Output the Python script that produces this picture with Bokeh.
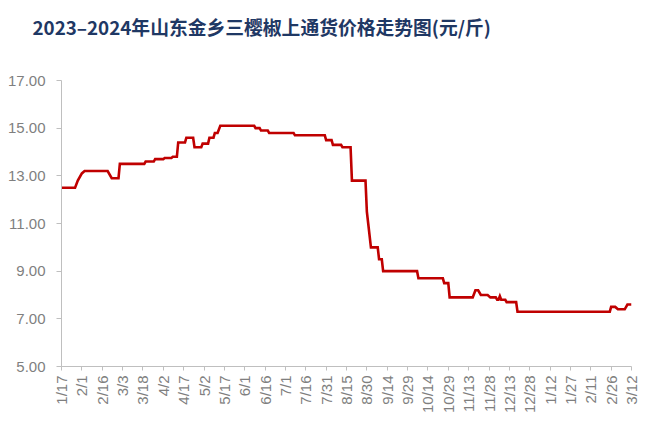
import math
import pandas as pd
from bokeh.plotting import figure
from bokeh.models import Range1d, FixedTicker, NumeralTickFormatter, ColumnDataSource, Title
from bokeh.embed import file_html
from bokeh.resources import INLINE

title_text = "2023–2024年山东金乡三樱椒上通货价格走势图(元/斤)"

dates = ["2023-01-17", "2023-01-27", "2023-01-29", "2023-02-01", "2023-02-03", "2023-02-20",
         "2023-02-23", "2023-02-28", "2023-03-01", "2023-03-19", "2023-03-20", "2023-03-26",
         "2023-03-27", "2023-04-02", "2023-04-03", "2023-04-08", "2023-04-09", "2023-04-12",
         "2023-04-13", "2023-04-18", "2023-04-19", "2023-04-24", "2023-04-25", "2023-04-30",
         "2023-05-01", "2023-05-05", "2023-05-06", "2023-05-09", "2023-05-10", "2023-05-12",
         "2023-05-14", "2023-06-08", "2023-06-09", "2023-06-12", "2023-06-13", "2023-06-18",
         "2023-06-19", "2023-07-07", "2023-07-08", "2023-07-30", "2023-07-31", "2023-08-04",
         "2023-08-05", "2023-08-11", "2023-08-12", "2023-08-18", "2023-08-19", "2023-08-29",
         "2023-08-30", "2023-08-31", "2023-09-02", "2023-09-07", "2023-09-08", "2023-09-10",
         "2023-09-11", "2023-10-06", "2023-10-07", "2023-10-25", "2023-10-26", "2023-10-29",
         "2023-10-30", "2023-11-16", "2023-11-18", "2023-11-20", "2023-11-22", "2023-11-27",
         "2023-11-29", "2023-12-03", "2023-12-04", "2023-12-05", "2023-12-06", "2023-12-07",
         "2023-12-10", "2023-12-11", "2023-12-18", "2023-12-19", "2024-02-25", "2024-02-26",
         "2024-02-29", "2024-03-02", "2024-03-07", "2024-03-09", "2024-03-12"]

prices = [12.5, 12.5, 12.8, 13.1, 13.2, 13.2,
          12.9, 12.9, 13.5, 13.5, 13.6, 13.6,
          13.7, 13.7, 13.75, 13.75, 13.8, 13.8,
          14.4, 14.4, 14.6, 14.6, 14.2, 14.2,
          14.35, 14.35, 14.6, 14.6, 14.8, 14.8,
          15.1, 15.1, 15.0, 15.0, 14.9, 14.9,
          14.8, 14.8, 14.7, 14.7, 14.5, 14.5,
          14.3, 14.3, 14.2, 14.2, 12.8, 12.8,
          11.5, 11.0, 10.0, 10.0, 9.5, 9.5,
          9.0, 9.0, 8.7, 8.7, 8.5, 8.5,
          7.9, 7.9, 8.2, 8.2, 8.0, 8.0,
          7.9, 7.9, 7.8, 7.8, 7.95, 7.8,
          7.8, 7.7, 7.7, 7.3, 7.3, 7.5,
          7.5, 7.4, 7.4, 7.6, 7.6]

tick_dates = ["2023-01-17", "2023-02-01", "2023-02-16", "2023-03-03", "2023-03-18", "2023-04-02",
              "2023-04-17", "2023-05-02", "2023-05-17", "2023-06-01", "2023-06-16", "2023-07-01",
              "2023-07-16", "2023-07-31", "2023-08-15", "2023-08-30", "2023-09-14", "2023-09-29",
              "2023-10-14", "2023-10-29", "2023-11-13", "2023-11-28", "2023-12-13", "2023-12-28",
              "2024-01-12", "2024-01-27", "2024-02-11", "2024-02-26", "2024-03-12"]
tick_labels = ["1/17", "2/1", "2/16", "3/3", "3/18", "4/2", "4/17", "5/2", "5/17", "6/1",
               "6/16", "7/1", "7/16", "7/31", "8/15", "8/30", "9/14", "9/29", "10/14", "10/29",
               "11/13", "11/28", "12/13", "12/28", "1/12", "1/27", "2/11", "2/26", "3/12"]
y_ticks = [5, 7, 9, 11, 13, 15, 17]

def to_ms(s):
    return pd.Timestamp(s).timestamp() * 1000.0

src = ColumnDataSource(dict(x=pd.to_datetime(dates), y=prices))

p = figure(width=650, height=423, output_backend="svg", toolbar_location=None,
           x_axis_type="datetime",
           x_range=Range1d(pd.Timestamp(tick_dates[0]), pd.Timestamp(tick_dates[-1])),
           y_range=Range1d(5, 17),
           min_border_left=61, min_border_right=19, min_border_top=80, min_border_bottom=57)

p.title = None
spacer = Title(text=" ", text_font_size="33px", standoff=0, text_color="white")
p.add_layout(spacer, "above")
main_title = Title(text=title_text, text_font="Noto Sans CJK SC", text_font_size="18.8px",
                   text_font_style="bold", text_color="#1F3864", align="left",
                   vertical_align="top", offset=-29, standoff=0)
p.add_layout(main_title, "above")

p.line("x", "y", source=src, line_color="#C00000", line_width=2.6, line_join="miter")

p.outline_line_color = None
p.xgrid.grid_line_color = None
p.ygrid.grid_line_color = None
p.background_fill_color = "white"
p.border_fill_color = "white"

label_color = "#7F7F7F"
axis_color = "#BFBFBF"

xa = p.xaxis[0]
tms = [to_ms(d) for d in tick_dates]
xa.ticker = FixedTicker(ticks=tms)
xa.major_label_overrides = {t: l for t, l in zip(tms, tick_labels)}
xa.major_label_orientation = math.pi / 2
xa.axis_line_color = axis_color
xa.major_tick_line_color = axis_color
xa.major_tick_out = 4
xa.major_tick_in = 0
xa.minor_tick_line_color = None
xa.major_label_text_font = "Liberation Sans"
xa.major_label_text_font_size = "15px"
xa.major_label_text_color = label_color
xa.major_label_standoff = 5

ya = p.yaxis[0]
ya.ticker = FixedTicker(ticks=y_ticks)
ya.formatter = NumeralTickFormatter(format="0.00")
ya.axis_line_color = axis_color
ya.major_tick_line_color = axis_color
ya.major_tick_out = 5
ya.major_tick_in = 0
ya.minor_tick_line_color = None
ya.major_label_text_font = "Liberation Sans"
ya.major_label_text_font_size = "15px"
ya.major_label_text_color = label_color
ya.major_label_standoff = 11

open("out.html", "w").write(file_html(p, INLINE))
